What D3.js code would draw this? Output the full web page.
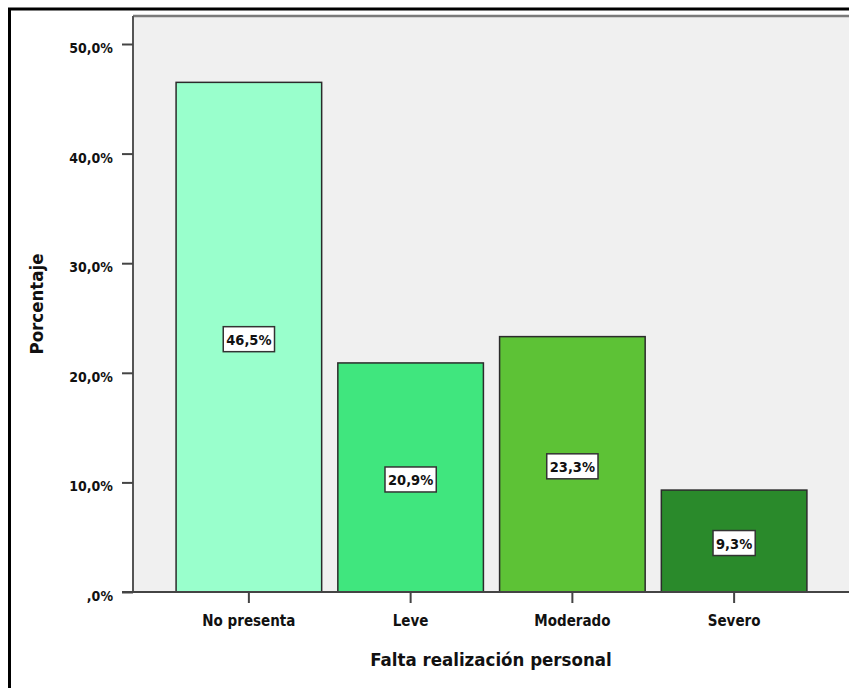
<!DOCTYPE html>
<html>
<head>
<meta charset="utf-8">
<script src="https://cdn.jsdelivr.net/npm/d3@7"></script>
<style>
  html, body { margin: 0; padding: 0; background: #ffffff; }
  svg { display: block; }
  text {
    font-family: "DejaVu Sans Condensed", "DejaVu Sans", sans-serif;
    font-stretch: condensed;
    font-weight: bold;
    fill: #111;
  }
</style>
</head>
<body>
<svg id="chart" width="849" height="688"></svg>
<script>
// Distribución de la falta de realización personal
const categories = ["No presenta", "Leve", "Moderado", "Severo"];
const percentages = [46.5, 20.9, 23.3, 9.3];
const valueLabels = ["46,5%", "20,9%", "23,3%", "9,3%"];
const yTicks = [0, 10, 20, 30, 40, 50];
const yTickLabels = [",0%", "10,0%", "20,0%", "30,0%", "40,0%", "50,0%"];
const barColors = ["#99ffcc", "#40e67e", "#5dc236", "#2a8a2b"];
const xTitle = "Falta realización personal";
const yTitle = "Porcentaje";

const FONT = "'DejaVu Sans Condensed', 'DejaVu Sans', sans-serif";

const svg = d3.select("#chart");

// plot frame
const plot = { left: 133, top: 16, right: 852, bottom: 592 };

const x = d3.scaleBand()
  .domain(categories)
  .range([168, 815])
  .paddingInner(0.1)
  .paddingOuter(0.05);

const y = d3.scaleLinear()
  .domain([0, 50])
  .range([plot.bottom, 44]);

// outer border
svg.append("rect")
  .attr("x", 9.5).attr("y", 9)
  .attr("width", 860).attr("height", 700)
  .attr("fill", "none")
  .attr("stroke", "#000")
  .attr("stroke-width", 3);

// plot background
svg.append("rect")
  .attr("x", plot.left).attr("y", plot.top)
  .attr("width", plot.right - plot.left)
  .attr("height", plot.bottom - plot.top)
  .attr("fill", "#f0f0f0");

// top border of the plot area
svg.append("line")
  .attr("x1", plot.left).attr("x2", plot.right)
  .attr("y1", plot.top).attr("y2", plot.top)
  .attr("stroke", "#7a7a7a").attr("stroke-width", 2.5);

// bars
svg.append("g").selectAll("rect")
  .data(categories)
  .join("rect")
  .attr("x", d => x(d))
  .attr("y", (d, i) => y(percentages[i]))
  .attr("width", x.bandwidth())
  .attr("height", (d, i) => y(0) - y(percentages[i]))
  .attr("fill", (d, i) => barColors[i])
  .attr("stroke", "#2b2b2b")
  .attr("stroke-width", 1.5);

// y axis
const yAxis = d3.axisLeft(y)
  .tickValues(yTicks)
  .tickFormat((d, i) => yTickLabels[i])
  .tickSize(11)
  .tickPadding(9);

const gy = svg.append("g")
  .attr("transform", `translate(${plot.left},0)`)
  .call(yAxis)
  .attr("font-family", FONT);
gy.select(".domain")
  .attr("d", `M0,${plot.top}V${plot.bottom}`)
  .attr("stroke", "#555").attr("stroke-width", 2);
gy.selectAll(".tick line").attr("stroke", "#444").attr("stroke-width", 2);
gy.selectAll(".tick text")
  .attr("font-size", 14)
  .attr("dy", "0.6em")
  .attr("fill", "#111");

// x axis
const xAxis = d3.axisBottom(x)
  .tickSize(11)
  .tickPadding(12);

const gx = svg.append("g")
  .attr("transform", `translate(0,${plot.bottom})`)
  .call(xAxis)
  .attr("font-family", FONT);
gx.select(".domain")
  .attr("d", `M122,0H${plot.right}`)
  .attr("stroke", "#444").attr("stroke-width", 2);
gx.selectAll(".tick line").attr("stroke", "#444").attr("stroke-width", 2);
gx.selectAll(".tick text")
  .attr("font-size", 15)
  .attr("fill", "#111");

// value labels inside bars
const labels = svg.append("g").selectAll("g")
  .data(categories)
  .join("g")
  .attr("transform", (d, i) =>
    `translate(${x(d) + x.bandwidth() / 2},${y(percentages[i] / 2) + 2})`);

labels.each(function (d, i) {
  const g = d3.select(this);
  const t = g.append("text")
    .attr("text-anchor", "middle")
    .attr("dy", "0.38em")
    .attr("font-size", 14.5)
    .text(valueLabels[i]);
  const bb = t.node().getBBox();
  g.insert("rect", "text")
    .attr("x", -bb.width / 2 - 3)
    .attr("y", -12.5)
    .attr("width", bb.width + 6)
    .attr("height", 25)
    .attr("fill", "#fff")
    .attr("stroke", "#333")
    .attr("stroke-width", 1.5);
});

// axis titles
svg.append("text")
  .attr("x", (plot.left + 849) / 2)
  .attr("y", 666)
  .attr("text-anchor", "middle")
  .attr("font-size", 18.5)
  .text(xTitle);

svg.append("text")
  .attr("transform", `translate(43,${(plot.top + plot.bottom) / 2}) rotate(-90)`)
  .attr("text-anchor", "middle")
  .attr("font-size", 18.5)
  .text(yTitle);
</script>
</body>
</html>
